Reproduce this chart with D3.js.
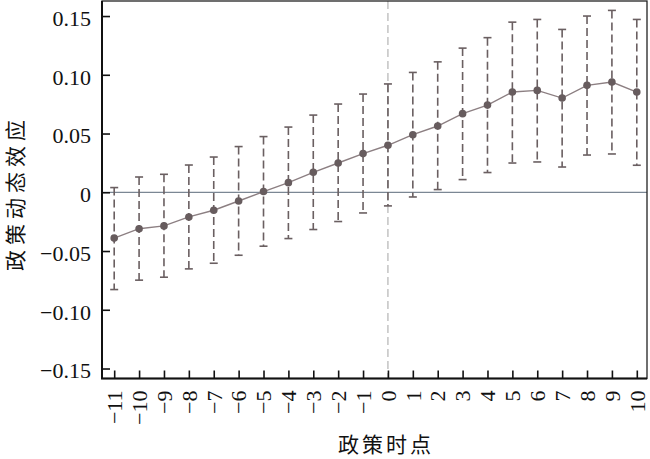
<!DOCTYPE html>
<html>
<head>
<meta charset="utf-8">
<script src="https://cdn.jsdelivr.net/npm/d3@7"></script>
<style>
  body { margin: 0; background: #fff; }
  svg { display: block; }
  .axis text { font-family: "Liberation Serif", "DejaVu Serif", serif; font-size: 22px; fill: #111; }
  .axis line { stroke: #111; stroke-width: 1.6; }
  .axis path { display: none; }
  .title { font-family: "Noto Sans CJK SC", sans-serif; font-size: 21px; fill: #111; }
</style>
</head>
<body>
<svg width="650" height="459"></svg>
<script>
var periods = [-11, -10, -9, -8, -7, -6, -5, -4, -3, -2, -1, 0, 1, 2, 3, 4, 5, 6, 7, 8, 9, 10];
var coef  = [-0.0390, -0.0310, -0.0286, -0.0210, -0.0153, -0.0074, 0.0006, 0.0082, 0.0170, 0.0249, 0.0329,
             0.0400, 0.0490, 0.0564, 0.0669, 0.0742, 0.0853, 0.0867, 0.0802, 0.0910, 0.0938, 0.0853];
var upper = [0.0040, 0.0130, 0.0153, 0.0232, 0.0300, 0.0389, 0.0474, 0.0555, 0.0657, 0.0751, 0.0836,
             0.0922, 0.1020, 0.1110, 0.1227, 0.1316, 0.1448, 0.1471, 0.1386, 0.1500, 0.1548, 0.1471];
var lower = [-0.0828, -0.0748, -0.0723, -0.0652, -0.0604, -0.0536, -0.0459, -0.0394, -0.0317, -0.0249, -0.0176,
             -0.0116, -0.0040, 0.0023, 0.0108, 0.0168, 0.0249, 0.0258, 0.0215, 0.0317, 0.0326, 0.0230];
var yTicks = [-0.15, -0.10, -0.05, 0, 0.05, 0.10, 0.15];
var xTitle = "政策时点";
var yTitle = "政策动态效应";

var LEFT = 102, RIGHT = 647, TOP = 1, BOTTOM = 378.5;

var svg = d3.select("svg");

var x = d3.scaleLinear()
  .domain([-11.49, 10.41])
  .range([LEFT, RIGHT]);
var y = d3.scaleLinear()
  .domain([-0.1585, 0.1628])
  .range([BOTTOM, TOP]);

var fmt = function(d){ return d === 0 ? "0" : d3.format(".2f")(d); };

// zero line and policy line
svg.append("line")
  .attr("x1", LEFT).attr("x2", RIGHT)
  .attr("y1", y(0)).attr("y2", y(0))
  .attr("stroke", "#7b8794").attr("stroke-width", 1.3);
svg.append("line")
  .attr("x1", x(0)).attr("x2", x(0))
  .attr("y1", TOP).attr("y2", BOTTOM)
  .attr("stroke", "#a5a5a5").attr("stroke-width", 1)
  .attr("stroke-dasharray", "8,4");

var rows = periods.map(function(p, i){ return {p: p, c: coef[i], hi: upper[i], lo: lower[i]}; });

// error bars
var bars = svg.append("g").selectAll("g").data(rows).enter().append("g");
bars.append("line")
  .attr("x1", function(d){ return x(d.p); }).attr("x2", function(d){ return x(d.p); })
  .attr("y1", function(d){ return y(d.hi); }).attr("y2", function(d){ return y(d.lo); })
  .attr("stroke", "#6a5f61").attr("stroke-width", 1.6)
  .attr("stroke-dasharray", "8,4");
bars.selectAll(".cap").data(function(d){ return [[d.p, d.hi], [d.p, d.lo]]; }).enter().append("line")
  .attr("x1", function(d){ return x(d[0]) - 4; }).attr("x2", function(d){ return x(d[0]) + 4; })
  .attr("y1", function(d){ return y(d[1]); }).attr("y2", function(d){ return y(d[1]); })
  .attr("stroke", "#6a5f61").attr("stroke-width", 1.6);

// coefficient line + points
svg.append("path")
  .datum(rows)
  .attr("fill", "none")
  .attr("stroke", "#8c7f82").attr("stroke-width", 1.4)
  .attr("d", d3.line().x(function(d){ return x(d.p); }).y(function(d){ return y(d.c); }));
svg.append("g").selectAll("circle").data(rows).enter().append("circle")
  .attr("cx", function(d){ return x(d.p); })
  .attr("cy", function(d){ return y(d.c); })
  .attr("r", 3.8)
  .attr("fill", "#675c5e");

// axes
svg.append("g").attr("class", "axis")
  .attr("transform", "translate(" + LEFT + ",0)")
  .call(d3.axisLeft(y).tickValues(yTicks).tickFormat(fmt).tickSizeInner(-8).tickSizeOuter(0).tickPadding(11))
  .selectAll("text").attr("dy", "0.42em");

var xa = svg.append("g").attr("class", "axis")
  .attr("transform", "translate(0," + BOTTOM + ")")
  .call(d3.axisBottom(x).tickValues(periods).tickFormat(d3.format("d")).tickSizeInner(-8).tickSizeOuter(0));
xa.selectAll("text")
  .attr("transform", "rotate(-90)")
  .attr("text-anchor", "end")
  .attr("x", -12).attr("y", 0).attr("dy", "0.33em");

// frame
svg.append("rect")
  .attr("x", LEFT).attr("y", TOP)
  .attr("width", RIGHT - LEFT).attr("height", BOTTOM - TOP)
  .attr("fill", "none").attr("stroke", "#222").attr("stroke-width", 1.3);
svg.append("path")
  .attr("d", "M" + LEFT + "," + TOP + "V" + BOTTOM + "H" + RIGHT)
  .attr("fill", "none").attr("stroke", "#111").attr("stroke-width", 2);

// titles
svg.append("text").attr("class", "title")
  .attr("x", 386).attr("y", 452)
  .attr("text-anchor", "middle")
  .style("letter-spacing", "3px")
  .text(xTitle);
svg.append("text").attr("class", "title")
  .attr("transform", "translate(23,193) rotate(-90)")
  .attr("text-anchor", "middle")
  .style("letter-spacing", "5px")
  .text(yTitle);
</script>
</body>
</html>
